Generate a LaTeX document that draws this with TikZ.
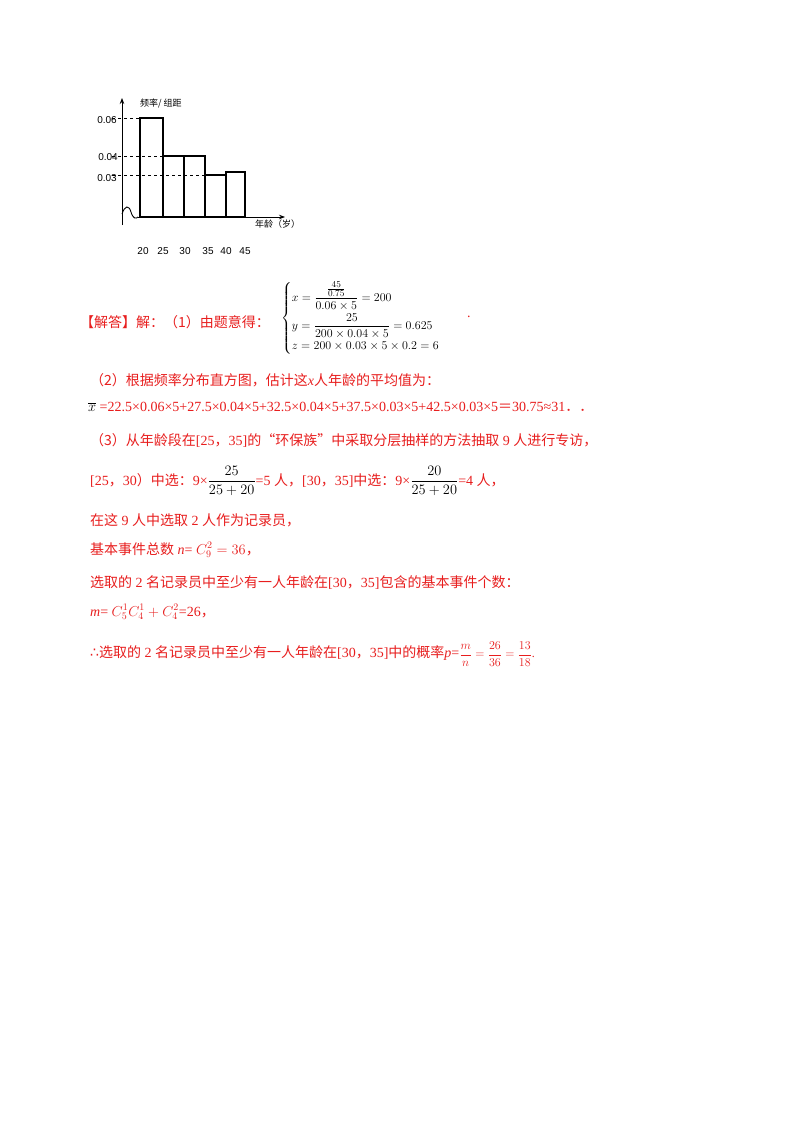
\documentclass[tikz,border=0pt]{standalone}
\usepackage{amsmath}
\usepackage{fontspec}
\setmainfont{Liberation Serif}
\newfontfamily\cjk{Noto Sans CJK SC}
\newfontfamily\djvs{DejaVu Sans}
\newfontfamily\axf{Liberation Sans}
\usetikzlibrary{arrows.meta}
\definecolor{ansred}{RGB}{232,30,30}
\tikzset{txt/.style={anchor=west,inner sep=0pt,font=\fontsize{14}{16}\selectfont,text=ansred},
 ax/.style={font=\axf\fontsize{10}{11}\selectfont,inner sep=0pt},
 bar/.style={draw,line width=1.2pt},
 dl/.style={dashed,line width=1pt}}
\begin{document}
\begin{tikzpicture}[x=1pt,y=-1pt]
\useasboundingbox[fill=white] (0,0) rectangle (800,1132);
% histogram
\coordinate (yt) at (122,98);
\coordinate (xt) at (285,217);
\draw[line width=0.9pt,-{Stealth[length=6pt]}] (122,225) -- (yt);
\draw[line width=0.9pt,-{Stealth[length=6pt]}] (138,217) -- (xt);
\draw[line width=0.9pt] (122,214) .. controls (125,205) and (129,205) .. (131,212) .. controls (133,219) and (136,219) .. (138,217);
\draw[bar] (140,217) rectangle (163,118);
\draw[bar] (163,217) rectangle (184,156);
\draw[bar] (184,217) rectangle (205,156);
\draw[bar] (205,217) rectangle (226,175);
\draw[bar] (226,217) rectangle (245,172);
\draw[dl] (112,118) -- (140,118);
\draw[dl] (112,156) -- (205,156);
\draw[dl] (112,175) -- (226,175);
\node[ax,anchor=east] (l6) at (117,120) {0.06};
\node[ax,anchor=east] (l4) at (118,157) {0.04};
\node[ax,anchor=east] (l3) at (117,178) {0.03};
\node[ax,anchor=west] (yl) at (140,103) {\cjk\fontsize{9}{10}\selectfont 频率/ 组距};
\node[ax,anchor=west] (xl) at (255,224) {\cjk\fontsize{9}{10}\selectfont 年龄（岁）};
\foreach \v/\x in {20/143,25/163,30/185,35/208,40/226,45/245}
  \node[ax] (t\v) at (\x,251) {\v};
% solution
\node[txt] (a1) at (80,322) {\cjk 【解答】解：（1）由题意得：};
\node[anchor=west,inner sep=0pt] (sys) at (281,318) {\fontsize{13}{15}\selectfont$\left\{\begin{aligned}
&x=\frac{\frac{45}{0.75}}{0.06\times5}=200\\[-1pt]
&y=\frac{25}{200\times0.04\times5}=0.625\\[-4pt]
&z=200\times0.03\times5\times0.2=6\end{aligned}\right.$};
\node[txt] (dot) at (467,317) {.};
\node[txt] (a2) at (90,380) {{\cjk （2）根据频率分布直方图，估计这}\textit{x}{\cjk 人年龄的平均值为：}};
\node[txt] (a3) at (88,407) {\textcolor{black}{$\overline{x}$} =22.5×0.06×5+27.5×0.04×5+32.5×0.04×5+37.5×0.03×5+42.5×0.03×5{\cjk ＝}30.75≈31{\cjk ．．}};
\node[txt] (a4) at (90,440) {{\cjk （3）从年龄段在}[25{\cjk ，}35]{\cjk 的“环保族”中采取分层抽样的方法抽取} 9 {\cjk 人进行专访，}};
\node[txt] (a5) at (90,481) {[25{\cjk ，}30{\cjk ）中选：}9×\textcolor{black}{$\dfrac{25}{25+20}$}=5 {\cjk 人，}[30{\cjk ，}35]{\cjk 中选：}9×\textcolor{black}{$\dfrac{20}{25+20}$}=4 {\cjk 人，}};
\node[txt] (a6) at (90,520) {{\cjk 在这} 9 {\cjk 人中选取} 2 {\cjk 人作为记录员，}};
\node[txt] (a7) at (90,550) {{\cjk 基本事件总数} \textit{n}= $C_9^2=36${\cjk ，}};
\node[txt] (a8) at (90,583) {{\cjk 选取的} 2 {\cjk 名记录员中至少有一人年龄在}[30{\cjk ，}35]{\cjk 包含的基本事件个数：}};
\node[txt] (a9) at (90,612) {\textit{m}= $C_5^1C_4^1+C_4^2$=26{\cjk ，}};
\node[txt] (a10) at (90,654) {{\djvs ∴}{\cjk 选取的} 2 {\cjk 名记录员中至少有一人年龄在}[30{\cjk ，}35]{\cjk 中的概率}\textit{p}=\fontsize{12}{14}\selectfont$\dfrac{m}{n}=\dfrac{26}{36}=\dfrac{13}{18}$.};
\end{tikzpicture}
\end{document}
